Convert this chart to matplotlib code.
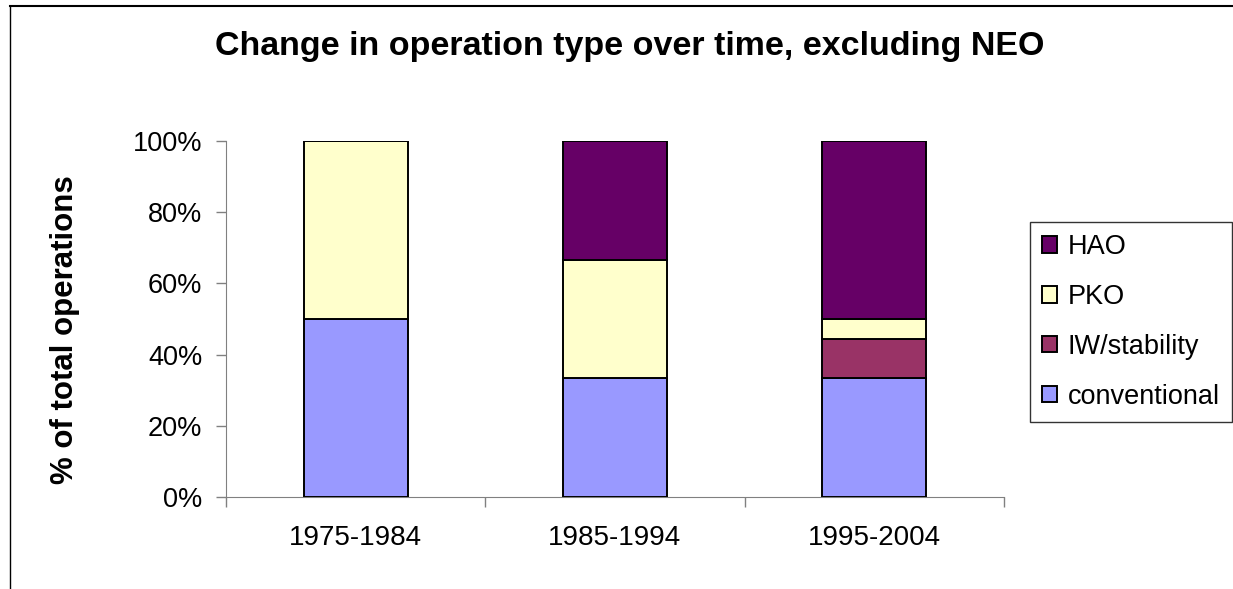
import matplotlib
matplotlib.use("Agg")
import matplotlib.pyplot as plt
from matplotlib.patches import Patch
from matplotlib.lines import Line2D
import numpy as np

plt.rcParams['font.family'] = ['Liberation Sans', 'DejaVu Sans']

categories = ["1975-1984", "1985-1994", "1995-2004"]
series_names = ["conventional", "IW/stability", "PKO", "HAO"]
conventional = [50.0, 33.3, 33.3]
iw_stability = [0.0, 0.0, 11.1]
pko = [50.0, 33.3, 5.6]
hao = [0.0, 33.4, 50.0]
colors = ["#9999FF", "#993366", "#FFFFCC", "#660066"]
yticks = [0, 20, 40, 60, 80, 100]
ytick_labels = ["0%", "20%", "40%", "60%", "80%", "100%"]

W, H = 1233, 589
fig = plt.figure(figsize=(W / 100, H / 100), dpi=100)
ax = fig.add_axes([226 / W, 1 - 497 / H, (1004 - 226) / W, (497 - 141) / H])

x = np.arange(len(categories))
bottom = np.zeros(len(categories))
handles = []
for name, vals, c in zip(series_names, [conventional, iw_stability, pko, hao], colors):
    vals = np.array(vals)
    ax.bar(x, vals, width=0.4, bottom=bottom, color=c, edgecolor="black", linewidth=1.4, zorder=3)
    bottom += vals
    handles.append(Patch(facecolor=c, edgecolor="black", linewidth=1.4, label=name))

ax.set_xlim(-0.5, len(categories) - 0.5)
ax.set_ylim(0, 100)
ax.set_yticks(yticks)
ax.set_yticklabels(ytick_labels, fontsize=19.5)
ax.set_xticks(x)
ax.set_xticklabels(categories, fontsize=20)
ax.tick_params(axis="x", length=0, pad=20)
ax.set_xticks(np.arange(-0.5, len(categories), 1.0), minor=True)
ax.tick_params(axis="x", which="minor", length=7, width=1, color="#808080", direction="out")
ax.tick_params(axis="y", length=7, width=1, color="#808080", pad=10, direction="out")
for s in ["top", "right"]:
    ax.spines[s].set_visible(False)
ax.spines["left"].set_color("#808080")
ax.spines["bottom"].set_color("#808080")

fig.text(630 / W, 1 - 47 / H, "Change in operation type over time, excluding NEO",
         ha="center", va="center", fontsize=24.5, fontweight="bold")
fig.text(65 / W, 1 - 330 / H, "% of total operations", rotation=90,
         ha="center", va="center", fontsize=22.5, fontweight="bold")

leg = fig.legend(handles=handles[::-1], loc="upper left",
                 bbox_to_anchor=(1030 / W, 1 - 222 / H), fontsize=19.5,
                 frameon=True, fancybox=False, edgecolor="black",
                 handlelength=0.55, handleheight=0.55, handletextpad=0.4,
                 labelspacing=0.88, borderpad=0.45, borderaxespad=0)
leg.get_frame().set_linewidth(1)

# outer chart border (left and top visible)
fig.add_artist(Line2D([10 / W, 10 / W], [0, 1 - 6 / H], transform=fig.transFigure, color="black", lw=1))
fig.add_artist(Line2D([10 / W, 1], [1 - 6 / H, 1 - 6 / H], transform=fig.transFigure, color="black", lw=1.5))

fig.savefig("out.png", dpi=100, facecolor="white")
